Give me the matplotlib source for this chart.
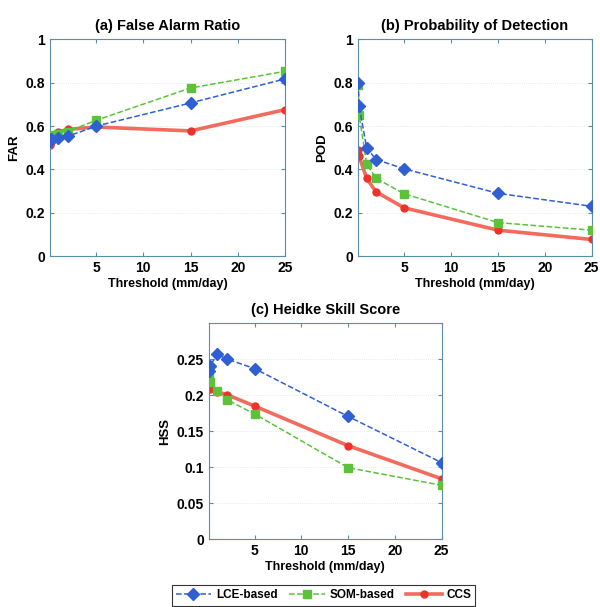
import matplotlib.pyplot as plt
import matplotlib as mpl

plt.rcParams['font.family'] = ['Liberation Sans', 'DejaVu Sans']
plt.rcParams['font.weight'] = 'bold'

thresh = [0.1, 0.2, 1, 2, 5, 15, 25]

# (a) false alarm ratio
far_lce = [0.53, 0.54, 0.545, 0.553, 0.60, 0.707, 0.818]
far_som = [0.558, 0.55, 0.565, 0.575, 0.627, 0.776, 0.853]
far_ccs = [0.515, 0.525, 0.573, 0.585, 0.596, 0.578, 0.676]

# (b) probability of detection
pod_lce = [0.80, 0.692, 0.50, 0.446, 0.403, 0.29, 0.23]
pod_som = [0.788, 0.65, 0.426, 0.359, 0.288, 0.155, 0.12]
pod_ccs = [0.492, 0.461, 0.359, 0.297, 0.223, 0.12, 0.077]

# (c) heidke skill score
hss_lce = [0.233, 0.24, 0.257, 0.2505, 0.237, 0.1706, 0.1065]
hss_som = [0.225, 0.218, 0.2056, 0.194, 0.174, 0.0995, 0.075]
hss_ccs = [0.2117, 0.209, 0.2047, 0.201, 0.185, 0.13, 0.084]

labels = ['LCE-based', 'SOM-based', 'CCS']
blue = '#2f5fd0'
green = '#5cc23a'
red = '#f0302a'
spine_col = '#5b8ea6'

fig = plt.figure(figsize=(6, 6.07), dpi=100)
ax_a = fig.add_axes([0.083, 0.578, 0.392, 0.357])
ax_b = fig.add_axes([0.597, 0.578, 0.389, 0.357])
ax_c = fig.add_axes([0.348, 0.1115, 0.388, 0.356])


def draw(ax, lce, som, ccs, title, ylab, ylim, yticks, ytl):
    ax.plot(thresh, ccs, '-o', color='#f36b5c', lw=2.6, ms=5,
            mfc=red, mec=red, label=labels[2], zorder=2)
    ax.plot(thresh, som, '--s', color=green, lw=1.1, ms=6,
            mfc=green, mec=green, label=labels[1], zorder=3)
    ax.plot(thresh, lce, '--D', color=blue, lw=1.1, ms=6,
            mfc=blue, mec=blue, label=labels[0], zorder=4)
    ax.set_xlim(0.1, 25)
    ax.set_ylim(*ylim)
    ax.set_xticks([5, 10, 15, 20, 25])
    ax.set_yticks(yticks)
    ax.set_yticklabels(ytl)
    ax.yaxis.grid(True, color='#d8e4e8', lw=0.6, ls=':')
    ax.tick_params(direction='in', top=True, right=True, labelsize=10,
                   length=3, color=spine_col)
    for s in ax.spines.values():
        s.set_color(spine_col)
    ax.set_title(title, fontsize=10.5, fontweight='bold', pad=7)
    ax.set_ylabel(ylab, fontsize=9.5, fontweight='bold')
    ax.set_xlabel('Threshold (mm/day)', fontsize=9, fontweight='bold', labelpad=2)


draw(ax_a, far_lce, far_som, far_ccs, '(a) False Alarm Ratio', 'FAR',
     (0, 1), [0, 0.2, 0.4, 0.6, 0.8, 1], ['0', '0.2', '0.4', '0.6', '0.8', '1'])
draw(ax_b, pod_lce, pod_som, pod_ccs, '(b) Probability of Detection', 'POD',
     (0, 1), [0, 0.2, 0.4, 0.6, 0.8, 1], ['0', '0.2', '0.4', '0.6', '0.8', '1'])
draw(ax_c, hss_lce, hss_som, hss_ccs, '(c) Heidke Skill Score', 'HSS',
     (0, 0.3), [0, 0.05, 0.1, 0.15, 0.2, 0.25], ['0', '0.05', '0.1', '0.15', '0.2', '0.25'])

h, l = ax_c.get_legend_handles_labels()
leg = fig.legend(h[::-1], l[::-1], loc='center', bbox_to_anchor=(0.539, 0.019),
                 ncol=3, fontsize=8.5, frameon=True, fancybox=False,
                 edgecolor='black', handlelength=3.0, columnspacing=1.0,
                 borderpad=0.35, handletextpad=0.4)
leg.get_frame().set_linewidth(0.8)

fig.savefig('out.png', dpi=100)
